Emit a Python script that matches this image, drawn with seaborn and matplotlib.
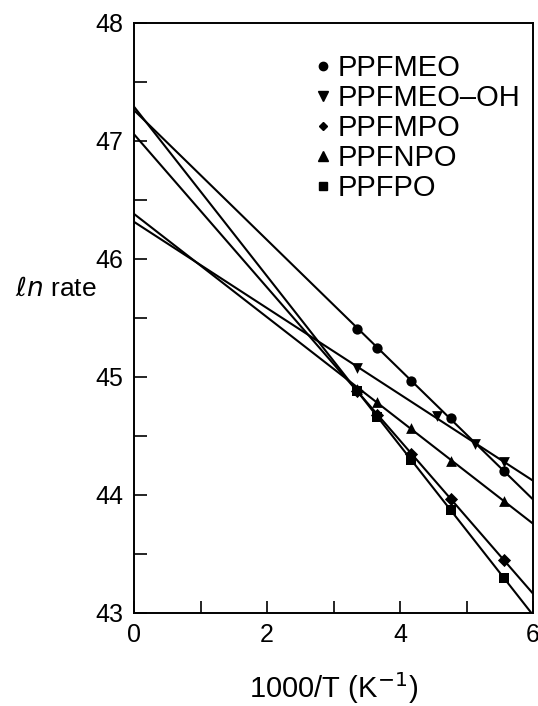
import numpy as np
import pandas as pd
import matplotlib
matplotlib.use("Agg")
import matplotlib.pyplot as plt
from matplotlib.lines import Line2D
from matplotlib.ticker import FixedLocator
import seaborn as sns

# ---- data ----
x_common = [3.36, 3.66, 4.17, 4.76, 5.56]
x_meo_oh = [3.36, 4.55, 5.13, 5.56]

y_ppfmeo = [45.41, 45.25, 44.97, 44.65, 44.20]
y_ppfmeo_oh = [45.08, 44.67, 44.43, 44.28]
y_ppfmpo = [44.88, 44.68, 44.35, 43.97, 43.45]
y_ppfnpo = [44.90, 44.79, 44.57, 44.29, 43.95]
y_ppfpo = [44.88, 44.66, 44.30, 43.87, 43.30]

series_names = ["PPFMEO", "PPFMEO\u2013OH", "PPFMPO", "PPFNPO", "PPFPO"]
series_x = [x_common, x_meo_oh, x_common, x_common, x_common]
series_y = [y_ppfmeo, y_ppfmeo_oh, y_ppfmpo, y_ppfnpo, y_ppfpo]
markers = ["o", "v", "D", "^", "s"]
msizes = [55, 60, 45, 60, 45]

x_ticks = [0, 2, 4, 6]
x_ticklabels = ["0", "2", "4", "6"]
x_minor = [1, 3, 5]
y_ticks = [43, 44, 45, 46, 47, 48]
y_ticklabels = ["43", "44", "45", "46", "47", "48"]
y_minor = [43.5, 44.5, 45.5, 46.5, 47.5]

sns.set_theme(style="ticks")
plt.rcParams["font.family"] = ["Liberation Sans", "DejaVu Sans"]
plt.rcParams["mathtext.fontset"] = "dejavusans"
plt.rcParams["text.color"] = "black"
plt.rcParams["axes.labelcolor"] = "black"

fig = plt.figure(figsize=(5.38, 7.06), dpi=100)
ax = fig.add_axes([134 / 538, 1 - 613 / 706, 399 / 538, 590 / 706])
ax.set_xlim(0, 6)
ax.set_ylim(43, 48)

for name, xs, ys, m, s in zip(series_names, series_x, series_y, markers, msizes):
    df = pd.DataFrame({"x": xs, "y": ys})
    sns.regplot(data=df, x="x", y="y", ax=ax, ci=None, truncate=False,
                color="black", marker=m,
                scatter_kws={"s": s, "alpha": 1, "edgecolor": "black",
                             "linewidths": 0, "zorder": 3},
                line_kws={"lw": 1.5, "color": "black"})

ax.set_xlim(0, 6)
ax.set_ylim(43, 48)

ax.set_xticks(x_ticks)
ax.set_xticklabels(x_ticklabels)
ax.xaxis.set_minor_locator(FixedLocator(x_minor))
ax.set_yticks(y_ticks)
ax.set_yticklabels(y_ticklabels)
ax.yaxis.set_minor_locator(FixedLocator(y_minor))

ax.tick_params(axis="both", which="both", direction="in", length=9, width=1.2,
               colors="black", labelsize=18, top=False, right=False)
ax.tick_params(axis="y", which="both", pad=8)
ax.tick_params(axis="x", which="both", pad=7)

for sp in ax.spines.values():
    sp.set_visible(True)
    sp.set_linewidth(1.4)
    sp.set_color("black")

ax.set_xlabel("1000/T (K$^{-1}$)", fontsize=21)
ax.xaxis.set_label_coords(0.5, -0.128)
ax.xaxis.label.set_va("center")

ax.set_ylabel(r"$\mathit{\ell n}$ rate", fontsize=19, rotation=0, ha="left", va="center")
ax.yaxis.set_label_coords(-0.298, 0.55)

handles = [Line2D([], [], linestyle="none", marker=m, color="black", markersize=ms)
           for m, ms in zip(markers, [6, 6.5, 4.5, 6.5, 5.5])]
leg = ax.legend(handles, series_names, loc="upper left",
                bbox_to_anchor=((311 - 134) / 399, (613 - 54) / 590),
                frameon=False, fontsize=21, handlelength=0.8, handletextpad=0.12,
                labelspacing=0.07, borderpad=0, borderaxespad=0)
for t in leg.get_texts():
    t.set_color("black")

fig.savefig("out.png", dpi=100)
